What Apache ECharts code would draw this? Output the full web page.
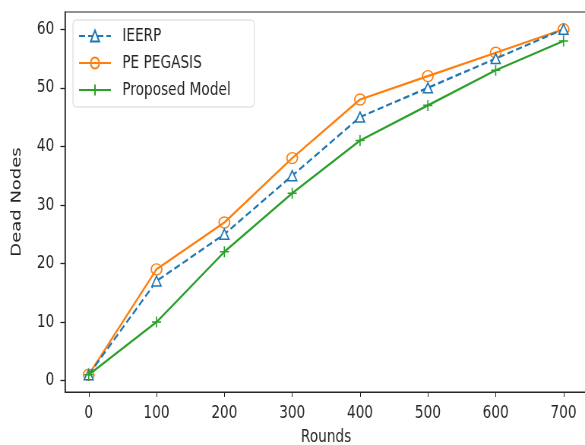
<!DOCTYPE html>
<html>
<head>
<meta charset="utf-8">
<script src="https://cdn.jsdelivr.net/npm/echarts@6/dist/echarts.min.js"></script>
<style>
  html, body { margin: 0; padding: 0; background: #fff; overflow: hidden; }
  /* the reference is a horizontally squeezed figure: draw wide, then squeeze */
  #chart { width: 770px; height: 445px; transform: scaleX(0.7597); transform-origin: 0 0; }
</style>
</head>
<body>
<div id="chart"></div>
<script>
// rounds on the x axis
var rounds = [0, 100, 200, 300, 400, 500, 600, 700];
// dead nodes per protocol
var ieerp = [1, 17, 25, 35, 45, 50, 55, 60];
var pePegasis = [1, 19, 27, 38, 48, 52, 56, 60];
var proposed = [1, 10, 22, 32, 41, 47, 53, 58];
// tick labels
var xTicks = [0, 100, 200, 300, 400, 500, 600, 700];
var yTicks = [0, 10, 20, 30, 40, 50, 60];

var font = "DejaVu Sans";
var ink = "#262626";
var plusPath = "path://M0,-10L0,10M-10,0L10,0";

function pairs(ys) {
    return rounds.map(function (x, i) { return [x, ys[i]]; });
}

var chart = echarts.init(document.getElementById("chart"));
chart.setOption({
    animation: false,
    textStyle: { fontFamily: font },
    grid: {
        left: 85.5, right: -3, top: 12, bottom: 53,
        outerBoundsMode: "none", containLabel: false,
        show: true, borderColor: ink, borderWidth: 1.2
    },
    legend: {
        orient: "vertical",
        left: 96, top: 20,
        padding: [7, 31, 8, 7],
        itemGap: 9,
        itemWidth: 42, itemHeight: 14,
        borderColor: "#d6d6d6", borderWidth: 1, borderRadius: 4,
        backgroundColor: "#fff",
        textStyle: { fontFamily: font, fontSize: 18, lineHeight: 14, color: ink, padding: [0, 0, 0, 10] },
        data: ["IEERP", "PE PEGASIS", "Proposed Model"]
    },
    xAxis: {
        type: "value", min: -35, max: 735,
        name: "Rounds", nameLocation: "middle", nameGap: 36,
        nameTextStyle: { fontFamily: font, fontSize: 18, color: ink },
        splitLine: { show: false },
        axisLine: { show: true, onZero: false, lineStyle: { color: ink, width: 1.2 } },
        axisTick: { show: true, length: 5, customValues: xTicks, lineStyle: { color: ink } },
        axisLabel: { customValues: xTicks, fontFamily: font, fontSize: 18, color: ink, margin: 12 }
    },
    yAxis: {
        type: "value", min: -1.95, max: 62.95,
        name: "Dead Nodes", nameLocation: "middle", nameGap: 54,
        nameTextStyle: { fontFamily: font, fontSize: 18, color: ink },
        splitLine: { show: false },
        axisLine: { show: true, onZero: false, lineStyle: { color: ink, width: 1.5 } },
        axisTick: { show: true, length: 6, customValues: yTicks, lineStyle: { color: ink, width: 1.3 } },
        axisLabel: { customValues: yTicks, fontFamily: font, fontSize: 18, color: ink, margin: 14 }
    },
    series: [
        {
            name: "IEERP", type: "line", data: pairs(ieerp),
            symbol: "triangle", symbolSize: [12, 10], showAllSymbol: true,
            lineStyle: { color: "#1f77b4", width: 2.2, type: [8, 4] },
            itemStyle: { color: "#fff", borderColor: "#1f77b4", borderWidth: 1.6 },
            z: 3
        },
        {
            name: "PE PEGASIS", type: "line", data: pairs(pePegasis),
            symbol: "circle", symbolSize: [14, 11], showAllSymbol: true,
            lineStyle: { color: "#ff7f0e", width: 2.2 },
            itemStyle: { color: "rgba(255,255,255,0)", borderColor: "#ff7f0e", borderWidth: 1.6 },
            z: 2
        },
        {
            name: "Proposed Model", type: "line", data: pairs(proposed),
            symbol: plusPath, symbolSize: [12, 11], showAllSymbol: true,
            lineStyle: { color: "#2ca02c", width: 2.2 },
            itemStyle: { color: "rgba(255,255,255,0)", borderColor: "#2ca02c", borderWidth: 1.6 },
            z: 4
        }
    ]
});
</script>
</body>
</html>
